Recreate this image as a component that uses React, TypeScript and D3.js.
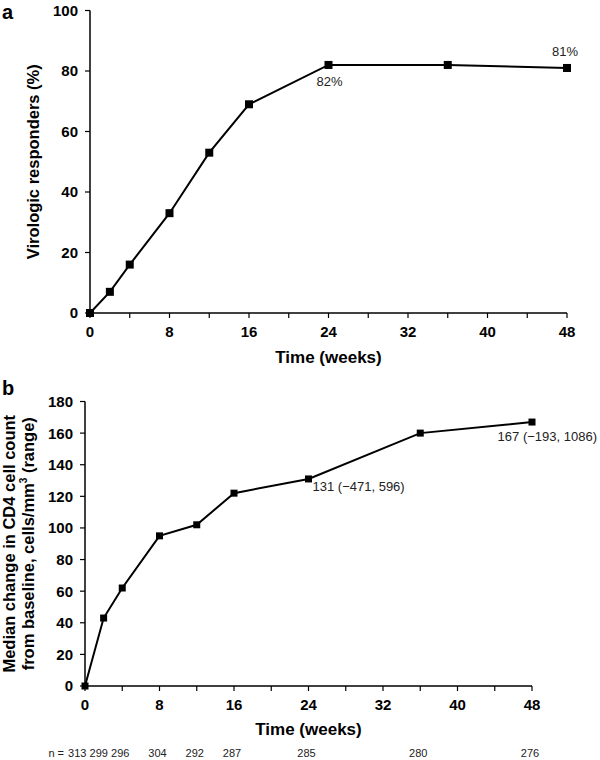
import React from "react";
import * as d3 from "d3";

const weeks = [0, 2, 4, 8, 12, 16, 24, 36, 48];
const responders = [0, 7, 16, 33, 53, 69, 82, 82, 81];
const cd4Change = [0, 43, 62, 95, 102, 122, 131, 160, 167];
const nCounts = [313, 299, 296, 304, 292, 287, 285, 280, 276];
const xTickValues = [0, 8, 16, 24, 32, 40, 48];
const xMinorTicks = [0, 4, 8, 12, 16, 20, 24, 28, 32, 36, 40, 44, 48];
const yTicksA = [0, 20, 40, 60, 80, 100];
const yTicksB = [0, 20, 40, 60, 80, 100, 120, 140, 160, 180];

const FONT = "'Liberation Sans', Arial, Helvetica, sans-serif";

type PanelProps = {
  xRange: [number, number];
  yRange: [number, number];
  yDomain: [number, number];
  yTicks: number[];
  values: number[];
  marker: number;
};

function Panel({ xRange, yRange, yDomain, yTicks, values, marker }: PanelProps) {
  const x = d3.scaleLinear().domain([0, 48]).range(xRange);
  const y = d3.scaleLinear().domain(yDomain).range(yRange);
  const line = d3
    .line<number>()
    .x((_, i) => x(weeks[i]))
    .y((d) => y(d));
  const x0 = xRange[0];
  const y0 = yRange[0];
  return (
    <g>
      <line x1={x0} x2={x0} y1={y0} y2={yRange[1]} stroke="#000" strokeWidth={1.5} />
      <line x1={x0} x2={xRange[1]} y1={y0} y2={y0} stroke="#000" strokeWidth={1.5} />
      {yTicks.map((t) => (
        <g key={"y" + t}>
          <line x1={x0 - 5} x2={x0} y1={y(t)} y2={y(t)} stroke="#000" strokeWidth={1.2} />
          <text
            x={x0 - 12}
            y={y(t)}
            dy="0.36em"
            textAnchor="end"
            fontFamily={FONT}
            fontWeight="bold"
            fontSize={15}
          >
            {t}
          </text>
        </g>
      ))}
      {xMinorTicks.map((t) => (
        <line key={"xm" + t} x1={x(t)} x2={x(t)} y1={y0} y2={y0 + 5} stroke="#000" strokeWidth={1.2} />
      ))}
      {xTickValues.map((t) => (
        <text
          key={"xl" + t}
          x={x(t)}
          y={y0 + 24}
          textAnchor="middle"
          fontFamily={FONT}
          fontWeight="bold"
          fontSize={15}
        >
          {t}
        </text>
      ))}
      <path d={line(values) || ""} fill="none" stroke="#000" strokeWidth={2} />
      {values.map((v, i) => (
        <rect
          key={"m" + i}
          x={x(weeks[i]) - marker / 2}
          y={y(v) - marker / 2}
          width={marker}
          height={marker}
          fill="#000"
        />
      ))}
    </g>
  );
}

export default function App() {
  const xa = d3.scaleLinear().domain([0, 48]).range([90, 567]);
  const ya = d3.scaleLinear().domain([0, 100]).range([313, 10.5]);
  const xb = d3.scaleLinear().domain([0, 48]).range([85, 532]);
  const yb = d3.scaleLinear().domain([0, 180]).range([686, 401.5]);
  const i24 = weeks.indexOf(24);
  const i48 = weeks.indexOf(48);

  // n-row label positions: under each week, nudged apart where they crowd
  const nPos = weeks.map((w) => xb(w) - 2);
  for (let i = nPos.length - 2; i >= 0; i--) {
    nPos[i] = Math.min(nPos[i], nPos[i + 1] - 21.5);
  }

  return (
    <svg
      width={600}
      height={760}
      style={{ position: "absolute", left: 0, top: 0, background: "#fff" }}
    >
      <rect width={600} height={760} fill="#fff" />
      {/* Panel a */}
      <text x={2} y={19} fontFamily={FONT} fontWeight="bold" fontSize={20}>
        a
      </text>
      <Panel
        xRange={[90, 567]}
        yRange={[313, 10.5]}
        yDomain={[0, 100]}
        yTicks={yTicksA}
        values={responders}
        marker={8}
      />
      <text
        transform={`translate(39, ${(313 + 10.5) / 2}) rotate(-90)`}
        textAnchor="middle"
        fontFamily={FONT}
        fontWeight="bold"
        fontSize={16.5}
      >
        Virologic responders (%)
      </text>
      <text x={(90 + 567) / 2} y={363} textAnchor="middle" fontFamily={FONT} fontWeight="bold" fontSize={17}>
        Time (weeks)
      </text>
      <text x={xa(24) + 1} y={ya(responders[i24]) + 21} textAnchor="middle" fontFamily={FONT} fontSize={13} fill="#222">
        {responders[i24]}%
      </text>
      <text x={xa(48) - 2} y={ya(responders[i48]) - 12} textAnchor="middle" fontFamily={FONT} fontSize={13} fill="#222">
        {responders[i48]}%
      </text>

      {/* Panel b */}
      <text x={2} y={395} fontFamily={FONT} fontWeight="bold" fontSize={20}>
        b
      </text>
      <Panel
        xRange={[85, 532]}
        yRange={[686, 401.5]}
        yDomain={[0, 180]}
        yTicks={yTicksB}
        values={cd4Change}
        marker={7}
      />
      <text
        transform={`translate(0, ${(686 + 401.5) / 2}) rotate(-90)`}
        textAnchor="middle"
        fontFamily={FONT}
        fontWeight="bold"
        fontSize={16.5}
      >
        <tspan x={0} y={15}>Median change in CD4 cell count</tspan>
        <tspan x={0} y={34}>
          from baseline, cells/mm
          <tspan fontSize={10} dy={-7}>3</tspan>
          <tspan dy={7}> (range)</tspan>
        </tspan>
      </text>
      <text x={(85 + 532) / 2} y={735} textAnchor="middle" fontFamily={FONT} fontWeight="bold" fontSize={17}>
        Time (weeks)
      </text>
      <text x={xb(24) + 4} y={yb(cd4Change[i24]) + 12} fontFamily={FONT} fontSize={13} fill="#222">
        {cd4Change[i24]} (−471, 596)
      </text>
      <text x={597} y={yb(cd4Change[i48]) + 19} textAnchor="end" fontFamily={FONT} fontSize={13} fill="#222">
        {cd4Change[i48]} (−193, 1086)
      </text>
      <text x={64} y={757} textAnchor="end" fontFamily={FONT} fontSize={11} fill="#222">
        n =
      </text>
      {nCounts.map((n, i) => (
        <text
          key={"n" + i}
          x={nPos[i]}
          y={757}
          textAnchor="middle"
          fontFamily={FONT}
          fontSize={11}
          fill="#222"
        >
          {n}
        </text>
      ))}
    </svg>
  );
}
